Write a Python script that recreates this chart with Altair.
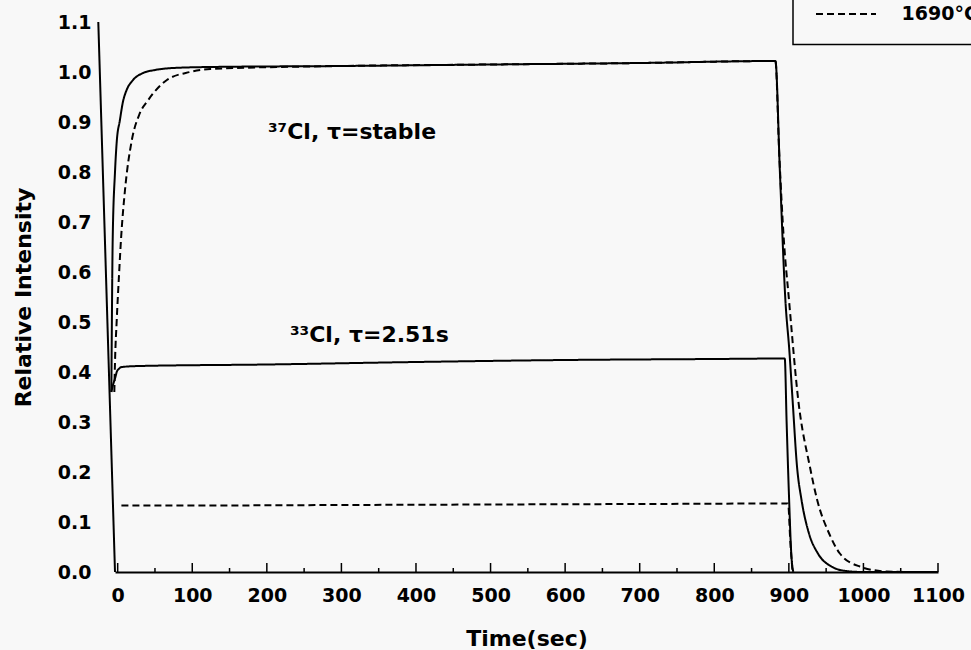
import altair as alt
import pandas as pd

# ---------------- data ----------------
# 37Cl, solid curve (other temperature)
cl37_solid_t = [-8.5, -8.0, -6.7, -3.6, -1.3, 3, 7, 12, 20, 34, 50, 74, 124, 300, 500,
                700, 882, 888, 895.5, 900.6, 905, 911, 917, 927, 939, 957, 977, 1000, 1100]
cl37_solid_v = [0.36, 0.46, 0.664, 0.80, 0.86, 0.904, 0.94, 0.964, 0.983, 0.998, 1.004, 1.008, 1.010, 1.012, 1.015,
                1.018, 1.022, 0.80, 0.54, 0.444, 0.344, 0.21, 0.144, 0.077, 0.037, 0.011, 0.002, 0.0, 0.0]

# 37Cl, dashed curve (1690 C)
cl37_dash_t = [-4.5, -3.6, -1.4, 2, 4.4, 9.8, 19, 29, 41, 66, 97, 124, 300, 500, 700,
               882, 887, 893.3, 900.2, 912.6, 928.3, 938, 954, 968.4, 995, 1031, 1060, 1100]
cl37_dash_v = [0.36, 0.42, 0.50, 0.60, 0.664, 0.764, 0.864, 0.915, 0.944, 0.984, 1.0, 1.006, 1.012, 1.015, 1.018,
               1.022, 0.84, 0.664, 0.544, 0.344, 0.21, 0.144, 0.077, 0.037, 0.011, 0.001, 0.0, 0.0]

# 33Cl, solid curve
cl33_solid_t = [-8.5, -7, -3, -1.3, 2, 5.4, 30, 200, 400, 600, 800, 894.5, 897, 900, 903.5, 906]
cl33_solid_v = [0.36, 0.37, 0.39, 0.40, 0.407, 0.41, 0.412, 0.415, 0.42, 0.424, 0.426, 0.427, 0.30, 0.16, 0.03, 0.0]

# 33Cl, dashed curve (1690 C)
cl33_dash_t = [5, 100, 300, 500, 700, 899, 902, 905]
cl33_dash_v = [0.133, 0.133, 0.134, 0.135, 0.136, 0.137, 0.06, 0.0]

# steep line at the left edge of the plot
edge_t = [-26, -3.6]
edge_v = [1.1, 0.0]

temps = ["other", "1690°C"]

ann_t = [201.5, 231]
ann_v = [0.88, 0.474]
ann_text = ["³⁷Cl, τ=stable", "³³Cl, τ=2.51s"]

x_major_ticks = [0, 100, 200, 300, 400, 500, 600, 700, 800, 900, 1000, 1100]
x_minor_ticks = [50, 150, 250, 350, 450, 550, 650, 750, 850, 950, 1050]
y_ticks = [0.0, 0.1, 0.2, 0.3, 0.4, 0.5, 0.6, 0.7, 0.8, 0.9, 1.0, 1.1]

# ---------------- tables ----------------
frames = []
for name, temp, ts, vs in [
    ("37_solid", temps[0], cl37_solid_t, cl37_solid_v),
    ("37_dash", temps[1], cl37_dash_t, cl37_dash_v),
    ("33_solid", temps[0], cl33_solid_t, cl33_solid_v),
    ("33_dash", temps[1], cl33_dash_t, cl33_dash_v),
    ("edge", temps[0], edge_t, edge_v),
]:
    frames.append(pd.DataFrame({"t": ts, "v": vs, "series": name, "temp": temp}))
curves = pd.concat(frames, ignore_index=True)

ann = pd.DataFrame({"t": ann_t, "v": ann_v, "label": ann_text})
major = pd.DataFrame({"t": x_major_ticks})
minor = pd.DataFrame({"t": x_minor_ticks})

FONT = "DejaVu Sans"
W, H = 823, 550

x_enc = alt.X(
    "t:Q",
    scale=alt.Scale(domain=[-3.6, 1100], nice=False, zero=False),
    axis=alt.Axis(
        values=x_major_ticks, format="d", title="Time(sec)", ticks=False, tickSize=0,
        grid=False, domainColor="black", domainWidth=2, labelFlush=False,
        labelPadding=14, labelFont=FONT, labelFontSize=19, labelFontWeight="bold",
        labelColor="black", titleFont=FONT, titleFontSize=22, titleFontWeight="bold",
        titleColor="black", titleY=66, titleBaseline="middle",
    ),
)
y_enc = alt.Y(
    "v:Q",
    scale=alt.Scale(domain=[0, 1.1], nice=False, zero=False),
    axis=alt.Axis(
        values=y_ticks, format=".1f", title="Relative Intensity", domain=False,
        ticks=False, tickSize=0, grid=False, labelFlush=False, labelPadding=24,
        labelFont=FONT, labelFontSize=19, labelFontWeight="bold", labelColor="black",
        titleFont=FONT, titleFontSize=22, titleFontWeight="bold", titleColor="black",
        titleAngle=270, titleX=-92, titleY=275, titleBaseline="middle", titleAlign="center",
    ),
)

lines = alt.Chart(curves).mark_line(color="black", strokeWidth=2, interpolate="monotone").encode(
    x=x_enc,
    y=y_enc,
    detail="series:N",
    strokeDash=alt.StrokeDash(
        "temp:N",
        scale=alt.Scale(domain=temps, range=[[1, 0], [7, 4]]),
        legend=alt.Legend(
            values=["1690°C"], title=None, orient="none", legendX=678, legendY=-37.5,
            padding=20, strokeColor="black", symbolType="M-6,0H6", symbolSize=100,
            symbolStrokeColor="black", symbolStrokeWidth=2, symbolFillColor="transparent",
            symbolOffset=23.5, labelOffset=46, labelFont=FONT, labelFontSize=19,
            labelFontWeight="bold", labelColor="black", labelLimit=0,
        ),
    ),
)

major_ticks = alt.Chart(major).mark_rule(color="black", strokeWidth=1.5).encode(
    x=x_enc, y=alt.value(H), y2=alt.value(H - 9)
)
minor_ticks = alt.Chart(minor).mark_rule(color="black", strokeWidth=1.5).encode(
    x=x_enc, y=alt.value(H), y2=alt.value(H - 4)
)

labels = alt.Chart(ann).mark_text(
    align="left", baseline="middle", font=FONT, fontSize=22, fontWeight="bold", color="black"
).encode(x=x_enc, y=y_enc, text="label:N")

chart = (
    alt.layer(lines, major_ticks, minor_ticks, labels)
    .properties(
        width=W, height=H, background="#f8f8f8",
        autosize=alt.AutoSizeParams(type="none"),
        padding={"left": 115, "top": 22, "right": 33, "bottom": 78},
    )
    .configure_view(stroke=None)
    .configure_legend(strokeWidth=1.5)
)

chart.save("out.html", embed_options={"renderer": "svg", "actions": False})
